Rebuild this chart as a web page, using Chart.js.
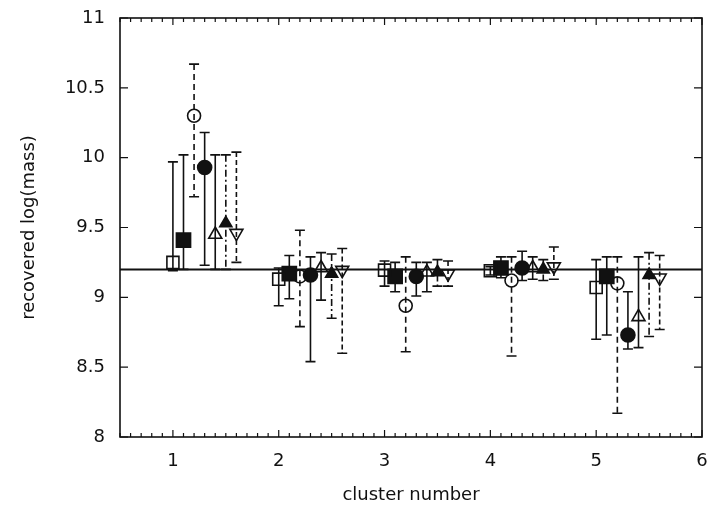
<!DOCTYPE html>
<html>
<head>
<meta charset="utf-8">
<script src="https://cdn.jsdelivr.net/npm/chart.js@4"></script>
<style>
  html, body { margin: 0; padding: 0; background: #fff; }
  canvas { display: block; }
</style>
</head>
<body>
<canvas id="massChart" width="708" height="511"></canvas>
<script>
// ── DATA ──────────────────────────────────────────────────────────
// cluster index and true input mass (horizontal reference line)
const clusters = [1, 2, 3, 4, 5];
const trueMass = 9.2;

const xTickValues = [1, 2, 3, 4, 5, 6];
const xTickLabels = ['1', '2', '3', '4', '5', '6'];
const yTickValues = [8, 8.5, 9, 9.5, 10, 10.5, 11];
const yTickLabels = ['8', '8.5', '9', '9.5', '10', '10.5', '11'];

// recovered log(mass) per method, with lower / upper error bar ends
const sqOpenVal  = [9.25, 9.13, 9.195, 9.19, 9.07];
const sqOpenLo   = [9.19, 8.94, 9.08, 9.16, 8.70];
const sqOpenHi   = [9.97, 9.21, 9.26, 9.22, 9.27];

const sqFillVal  = [9.41, 9.17, 9.15, 9.21, 9.15];
const sqFillLo   = [9.20, 8.99, 9.04, 9.14, 8.73];
const sqFillHi   = [10.02, 9.30, 9.25, 9.29, 9.29];

const circOpenVal = [10.30, 9.15, 8.94, 9.12, 9.10];
const circOpenLo  = [9.72, 8.79, 8.61, 8.58, 8.17];
const circOpenHi  = [10.67, 9.48, 9.29, 9.29, 9.29];

const circFillVal = [9.93, 9.16, 9.15, 9.21, 8.73];
const circFillLo  = [9.23, 8.54, 9.01, 9.12, 8.63];
const circFillHi  = [10.18, 9.29, 9.25, 9.33, 9.04];

const triOpenVal = [9.45, 9.21, 9.18, 9.21, 8.86];
const triOpenLo  = [9.20, 8.98, 9.04, 9.13, 8.64];
const triOpenHi  = [10.02, 9.32, 9.25, 9.29, 9.29];

const triFillVal = [9.53, 9.17, 9.18, 9.20, 9.16];
const triFillLo  = [9.20, 8.85, 9.08, 9.12, 8.72];
const triFillHi  = [10.02, 9.31, 9.27, 9.27, 9.32];

const invOpenVal = [9.46, 9.195, 9.17, 9.22, 9.14];
const invOpenLo  = [9.25, 8.60, 9.08, 9.13, 8.77];
const invOpenHi  = [10.04, 9.35, 9.26, 9.36, 9.30];

// ── STYLE ─────────────────────────────────────────────────────────
const ink  = '#111';
const none = 'rgba(0,0,0,0)';
const DODGE = 0.1;   // horizontal offset between methods within a cluster

// one entry per method: values + marker / error-bar style
const methods = [
  { val: sqOpenVal,   lo: sqOpenLo,   hi: sqOpenHi,   style: 'rect',     r: 8.5, fill: none, dash: [] },
  { val: sqFillVal,   lo: sqFillLo,   hi: sqFillHi,   style: 'rect',     r: 10,  fill: ink,  dash: [] },
  { val: circOpenVal, lo: circOpenLo, hi: circOpenHi, style: 'circle',   r: 6.5, fill: none, dash: [6, 4] },
  { val: circFillVal, lo: circFillLo, hi: circFillHi, style: 'circle',   r: 7,   fill: ink,  dash: [] },
  { val: triOpenVal,  lo: triOpenLo,  hi: triOpenHi,  style: 'triangle', r: 7.5, fill: none, dash: [] },
  { val: triFillVal,  lo: triFillLo,  hi: triFillHi,  style: 'triangle', r: 7,   fill: ink,  dash: [7, 3, 2, 3] },
  { val: invOpenVal,  lo: invOpenLo,  hi: invOpenHi,  style: 'triangle', r: 7.5, fill: none, dash: [5, 3], rot: 180 },
];

const datasets = methods.map((m, i) => ({
  data: clusters.map((c, j) => ({ x: c + i * DODGE, y: m.val[j] })),
  errLo: m.lo,
  errHi: m.hi,
  errDash: m.dash,
  showLine: false,
  pointStyle: m.style,
  pointRadius: m.r,
  pointHoverRadius: m.r,
  pointRotation: m.rot || 0,
  pointBackgroundColor: m.fill,
  pointBorderColor: ink,
  pointBorderWidth: 1.6,
}));

// ── PLUGINS ───────────────────────────────────────────────────────
// reference line + error bars, drawn under the markers
const errorBars = {
  id: 'errorBars',
  beforeDatasetsDraw(chart) {
    const { ctx, scales: { x, y }, chartArea: a } = chart;
    ctx.save();
    ctx.strokeStyle = ink;

    ctx.lineWidth = 2;
    const ly = y.getPixelForValue(trueMass);
    ctx.beginPath(); ctx.moveTo(a.left, ly); ctx.lineTo(a.right, ly); ctx.stroke();

    ctx.lineWidth = 1.6;
    for (const ds of chart.data.datasets) {
      ds.data.forEach((p, j) => {
        const px  = x.getPixelForValue(p.x);
        const top = y.getPixelForValue(ds.errHi[j]);
        const bot = y.getPixelForValue(ds.errLo[j]);
        ctx.setLineDash(ds.errDash);
        ctx.beginPath(); ctx.moveTo(px, top); ctx.lineTo(px, bot); ctx.stroke();
        ctx.setLineDash([]);
        ctx.beginPath();
        ctx.moveTo(px - 5, top); ctx.lineTo(px + 5, top);
        ctx.moveTo(px - 5, bot); ctx.lineTo(px + 5, bot);
        ctx.stroke();
      });
    }
    ctx.restore();
  },
};

// gnuplot-style frame with inward major / minor ticks on all sides
const frameTicks = {
  id: 'frameTicks',
  afterDraw(chart) {
    const { ctx, scales: { x, y }, chartArea: a } = chart;
    ctx.save();
    ctx.strokeStyle = ink;
    ctx.lineWidth = 1.6;
    ctx.strokeRect(a.left, a.top, a.right - a.left, a.bottom - a.top);

    ctx.lineWidth = 1.2;
    ctx.beginPath();
    for (let k = 5; k <= 60; k++) {
      const px = x.getPixelForValue(k / 10);
      const len = k % 10 === 0 ? 7 : 4;
      ctx.moveTo(px, a.bottom); ctx.lineTo(px, a.bottom - len);
      ctx.moveTo(px, a.top);    ctx.lineTo(px, a.top + len);
    }
    for (const v of yTickValues) {
      const py = y.getPixelForValue(v);
      ctx.moveTo(a.left, py);  ctx.lineTo(a.left + 8, py);
      ctx.moveTo(a.right, py); ctx.lineTo(a.right - 8, py);
    }
    ctx.stroke();
    ctx.restore();
  },
};

// ── CHART ─────────────────────────────────────────────────────────
Chart.defaults.font.family = "'DejaVu Sans', sans-serif";
Chart.defaults.font.size = 18;
Chart.defaults.color = ink;

new Chart(document.getElementById('massChart'), {
  type: 'scatter',
  data: { datasets },
  plugins: [errorBars, frameTicks],
  options: {
    responsive: false,
    animation: false,
    layout: { autoPadding: false, padding: { top: 18, right: 6, left: 0, bottom: 0 } },
    plugins: { legend: { display: false }, tooltip: { enabled: false } },
    scales: {
      x: {
        type: 'linear',
        min: 0.5,
        max: 6,
        afterBuildTicks: s => { s.ticks = xTickValues.map(v => ({ value: v })); },
        afterFit: s => { s.height = 74; s.paddingLeft = 0; s.paddingRight = 0; },
        grid: { display: false, drawTicks: false },
        border: { display: false },
        ticks: { padding: 14, callback: (v, i) => xTickLabels[i] },
        title: { display: true, text: 'cluster number', padding: { top: 0, bottom: 5 } },
      },
      y: {
        min: 8,
        max: 11,
        afterBuildTicks: s => { s.ticks = yTickValues.map(v => ({ value: v })); },
        afterFit: s => { s.width = 120; s.paddingTop = 0; s.paddingBottom = 0; },
        grid: { display: false, drawTicks: false },
        border: { display: false },
        ticks: { padding: 15, callback: (v, i) => yTickLabels[i] },
        title: { display: true, text: 'recovered log(mass)', padding: { top: 19, bottom: 0 } },
      },
    },
  },
});
</script>
</body>
</html>
